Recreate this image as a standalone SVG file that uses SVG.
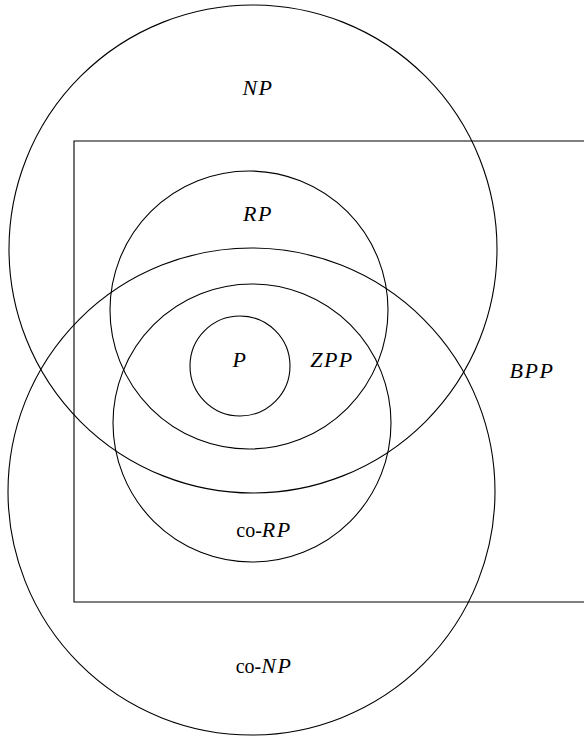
<svg xmlns="http://www.w3.org/2000/svg" width="584" height="737" viewBox="0 0 584 737">
<style>
.s{fill:none;stroke:#000;stroke-width:1.1}
.l{font-family:"Liberation Serif",serif;font-size:20px;fill:#000;text-anchor:middle}
.c{font-style:italic;font-size:22px;letter-spacing:1.5px}
</style>
<rect width="584" height="737" fill="#fff"/>
<g id="BPP"><path class="s" d="M590,141 H74 V602 H590"/><text class="l c" x="532" y="378">BPP</text></g>
<g id="NP"><circle class="s" cx="253" cy="249" r="244"/><text class="l c" x="258" y="95">NP</text></g>
<g id="coNP"><circle class="s" cx="251.5" cy="491.5" r="243.5"/><text class="l" x="264" y="673">co-<tspan class="c">NP</tspan></text></g>
<g id="RP"><circle class="s" cx="249" cy="310" r="139"/><text class="l c" x="258" y="221">RP</text></g>
<g id="coRP"><circle class="s" cx="252" cy="423" r="139"/><text class="l" x="264" y="537">co-<tspan class="c">RP</tspan></text></g>
<g id="P"><circle class="s" cx="240" cy="366" r="50"/><text class="l c" x="240" y="367">P</text></g>
<g id="ZPP"><text class="l c" x="332" y="367">ZPP</text></g>
<g id="connectors"/>
</svg>
